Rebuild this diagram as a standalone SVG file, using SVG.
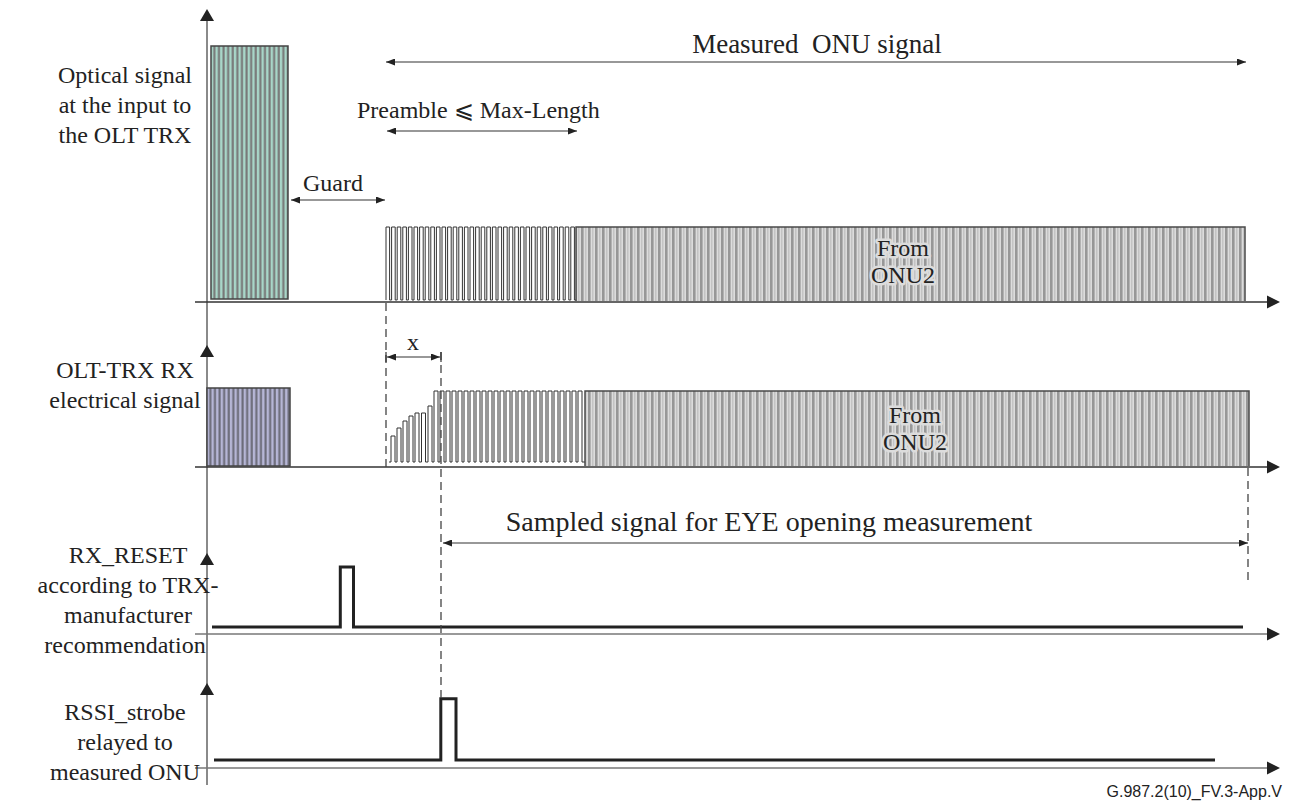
<svg xmlns="http://www.w3.org/2000/svg" xmlns:xlink="http://www.w3.org/1999/xlink" width="1292" height="807" viewBox="0 0 1292 807">
<style>
.t{font-family:"Liberation Serif","Times New Roman",serif;font-size:24px;fill:#222}
.lbl{text-anchor:middle}
.halo{paint-order:stroke;stroke:#dcdcdc;stroke-width:5px;stroke-linejoin:round}
.axv{stroke:#8a8a8a;stroke-width:2;fill:none}
.axd{stroke:#333;stroke-width:1.5;fill:none}
.axg{stroke:#777;stroke-width:1.5;fill:none}
.dash{stroke:#444;stroke-width:1.3;stroke-dasharray:8 5;fill:none}
.dim{stroke:#333;stroke-width:1.2;fill:none;marker-start:url(#sa);marker-end:url(#sa)}
.sig{stroke:#222;stroke-width:3;fill:none}
.pul{stroke:#333;stroke-width:1;fill:none}
.ah{fill:#222}
</style>
<defs>
<marker id="sa" markerUnits="userSpaceOnUse" markerWidth="9" markerHeight="7" refX="9" refY="3.5" orient="auto-start-reverse"><path d="M0,0 L9,3.5 L0,7 z" fill="#222"/></marker>
<pattern id="teal" patternUnits="userSpaceOnUse" x="211" y="0" width="4.6" height="10"><rect width="4.6" height="10" fill="#a8d6c8"/><rect x="2.3" width="2.1" height="10" fill="#777"/></pattern>
<pattern id="lil" patternUnits="userSpaceOnUse" x="207" y="0" width="4.6" height="10"><rect width="4.6" height="10" fill="#b6b6d6"/><rect x="2.3" width="2.1" height="10" fill="#6b6b78"/></pattern>
<pattern id="gry" patternUnits="userSpaceOnUse" x="0" y="0" width="7" height="10"><rect width="7" height="10" fill="#dcdcdc"/><rect x="0" width="2.6" height="10" fill="#979797"/><rect x="4.2" width="1.2" height="10" fill="#bdbdbd"/></pattern>
<path id="up" d="M0,0 L-7,12 L7,12 z"/>
<path id="rt" d="M0,0 L-13,-6.5 L-13,6.5 z"/>
</defs>

<g id="axes">
<line class="axv" x1="207" y1="14" x2="207" y2="785"/>
<use href="#up" x="207" y="9" class="ah"/>
<use href="#up" x="207" y="345" class="ah"/>
<use href="#up" x="207" y="553" class="ah"/>
<use href="#up" x="207" y="683" class="ah"/>
<line class="axd" x1="195" y1="302" x2="1268" y2="302"/>
<use href="#rt" x="1280" y="302" class="ah"/>
<line class="axd" x1="195" y1="467" x2="1268" y2="467"/>
<use href="#rt" x="1280" y="467" class="ah"/>
<line class="axg" x1="195" y1="634" x2="1268" y2="634"/>
<use href="#rt" x="1280" y="634" class="ah"/>
<line class="axg" x1="195" y1="768" x2="1268" y2="768"/>
<use href="#rt" x="1280" y="768" class="ah"/>
</g>

<g id="labels">
<text class="t lbl" x="125" y="83">Optical signal</text>
<text class="t lbl" x="125" y="113">at the input to</text>
<text class="t lbl" x="125" y="143">the OLT TRX</text>
<text class="t lbl" x="125" y="378">OLT-TRX RX</text>
<text class="t lbl" x="125" y="408">electrical signal</text>
<text class="t lbl" x="128" y="563">RX_RESET</text>
<text class="t lbl" x="128" y="593">according to TRX-</text>
<text class="t lbl" x="128" y="623">manufacturer</text>
<text class="t lbl" x="125" y="653">recommendation</text>
<text class="t lbl" x="125" y="720">RSSI_strobe</text>
<text class="t lbl" x="125" y="750">relayed to</text>
<text class="t lbl" x="125" y="780">measured ONU</text>
</g>

<g id="optical-onu1">
<rect x="211" y="46" width="77" height="253" fill="url(#teal)" stroke="#444" stroke-width="1.5"/>
</g>

<g id="optical-preamble">
<path class="pul" d="M386,300v-73h3.6v73h2v-73h3.6v73h2v-73h3.6v73h2v-73h3.6v73h2v-73h3.6v73h2v-73h3.6v73h2v-73h3.6v73h2v-73h3.6v73h2v-73h3.6v73h2v-73h3.6v73h2v-73h3.6v73h2v-73h3.6v73h2v-73h3.6v73h2v-73h3.6v73h2v-73h3.6v73h2v-73h3.6v73h2v-73h3.6v73h2v-73h3.6v73h2v-73h3.6v73h2v-73h3.6v73h2v-73h3.6v73h2v-73h3.6v73h2v-73h3.6v73h2v-73h3.6v73h2v-73h3.6v73h2v-73h3.6v73h2v-73h3.6v73h2v-73h3.6v73h2v-73h3.6v73h2v-73h3.6v73h2v-73h3.6v73h2v-73h3.6v73h2v-73h3.6v73h2v-73h3.6v73h2"/>
</g>

<g id="optical-onu2">
<path d="M576,301 V227 H1245 V301" fill="url(#gry)" stroke="#4a4a4a" stroke-width="1.5"/>
<text class="t lbl halo" x="903" y="256">From</text>
<text class="t lbl halo" x="903" y="283">ONU2</text>
</g>

<g id="electrical-onu1">
<rect x="207" y="388" width="83" height="78" fill="url(#lil)" stroke="#444" stroke-width="1.5"/>
</g>

<g id="electrical-preamble">
<path class="pul" d="M389,462 H391 V436 H395 V462 H397 V428 H401 V462 H403 V421 H407 V462 H409 V416 H413 V462 H415 V413 H419 V462 H421.5 V413 H425.5 V462 H428 V406 H432 V462 H434v-71h4v71h2v-71h4v71h2v-71h4v71h2v-71h4v71h2v-71h4v71h2v-71h4v71h2v-71h4v71h2v-71h4v71h2v-71h4v71h2v-71h4v71h2v-71h4v71h2v-71h4v71h2v-71h4v71h2v-71h4v71h2v-71h4v71h2v-71h4v71h2v-71h4v71h2v-71h4v71h2v-71h4v71h2v-71h4v71h2v-71h4v71h2v-71h4v71h2v-71h4v71h2v-71h4v71h2v-71h4v71h2H585"/>
</g>

<g id="electrical-onu2">
<path d="M585,466 V391 H1249 V466" fill="url(#gry)" stroke="#4a4a4a" stroke-width="1.5"/>
<text class="t lbl halo" x="915" y="423">From</text>
<text class="t lbl halo" x="915" y="450">ONU2</text>
</g>

<g id="rx-reset">
<path class="sig" d="M212,627 H340.3 V567 H353.5 V627 H1243"/>
</g>

<g id="rssi-strobe">
<path class="sig" d="M214,760 H440.8 V698.7 H456 V760 H1215"/>
</g>

<g id="connectors">
<line class="dash" x1="386" y1="303" x2="386" y2="467"/>
<line class="dash" x1="441" y1="352" x2="441" y2="698"/>
<line class="dash" x1="1248" y1="468" x2="1248" y2="580"/>
<line stroke="#333" stroke-width="1.2" x1="386" y1="352" x2="386" y2="362"/>
<line stroke="#333" stroke-width="1.2" x1="441" y1="352" x2="441" y2="362"/>
<line class="dim" x1="387" y1="357" x2="440" y2="357"/>
<line class="dim" x1="386" y1="62" x2="1246" y2="62"/>
<line class="dim" x1="387" y1="131" x2="577" y2="131"/>
<line class="dim" x1="291" y1="200" x2="385" y2="200"/>
<line class="dim" x1="443" y1="543" x2="1248" y2="543"/>
</g>

<g id="annotations">
<text class="t lbl" x="817" y="53" font-size="27" style="font-size:27px" xml:space="preserve">Measured  ONU signal</text>
<text class="t" x="357" y="118">Preamble <tspan font-family="DejaVu Serif,DejaVu Sans,serif" font-size="24">⩽</tspan> Max-Length</text>
<text class="t lbl" x="333" y="191">Guard</text>
<text class="t lbl" x="413" y="350">x</text>
<text class="t lbl" x="769" y="531" style="font-size:28px">Sampled signal for EYE opening measurement</text>
<text x="1282" y="797" text-anchor="end" font-family="Liberation Sans,Arial,sans-serif" font-size="16" fill="#222">G.987.2(10)_FV.3-App.V</text>
</g>
</svg>
